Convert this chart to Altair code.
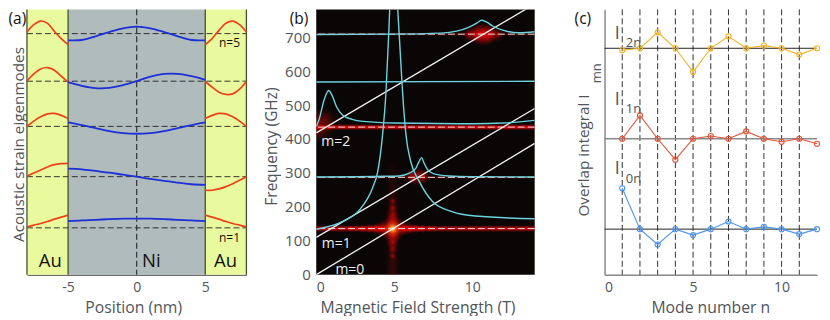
import altair as alt
import pandas as pd

FONT = "Open Sans"
GREY = "#4f555a"
XT = dict(titleFont=FONT, titleFontSize=15.8, titleColor=GREY, titleFontWeight="normal")
YT = dict(titleFont=FONT, titleFontSize=15.3, titleColor=GREY, titleFontWeight="normal")
LAB = dict(labelFont=FONT, labelFontSize=14, labelColor=GREY)

# ---------- panel (a): eigenmodes (y in arbitrary units) ----------
red_left_x = [-8, -7.5, -7, -6.5, -6, -5.5, -5]
red_right_x = [5, 5.5, 6, 6.5, 7, 7.5, 8]
blue_x = [-5, -4, -3, -2, -1, 0, 1, 2, 3, 4, 5]
baselines = [241.7, 194, 148.7, 98.3, 47]
red_left = [
    [243.3, 250.7, 254.3, 252, 244, 236.7, 230.7],
    [194, 201.3, 206.3, 207.7, 205, 199, 193],
    [148.7, 154, 158.3, 161.3, 161.7, 159.7, 156.7],
    [98.7, 102, 105, 108, 110.3, 111.3, 111.7],
    [48, 49.7, 51.3, 53.3, 55.7, 57.7, 59.7],
]
red_right = [
    [230.7, 236.7, 245, 252, 254.3, 250.7, 243.3],
    [193.7, 188, 183, 180.7, 181.3, 186, 193.7],
    [156.7, 159.7, 161.7, 161.3, 158.3, 154, 148.7],
    [84.7, 84.7, 86, 88.3, 91.3, 94.7, 98.3],
    [59.7, 57.7, 55.7, 53.3, 51.3, 49.7, 48],
]
blue_vals = [
    [235, 235.3, 239, 243.3, 247, 248.7, 247, 243.3, 239, 235.3, 235],
    [193, 189.3, 187, 187.3, 190, 194, 198.7, 201.3, 201.3, 199, 195.3],
    [152.7, 150, 147, 144, 142, 141.3, 142, 144, 147, 150, 152.7],
    [106.3, 105.7, 104, 102.3, 100.3, 98.3, 96, 94, 92.3, 90.7, 90],
    [53.7, 54.5, 55, 55.7, 56.2, 56.3, 56.2, 55.7, 55, 54.5, 53.7],
]

rows_red, rows_blue, rows_base = [], [], []
for i in range(5):
    for x, v in zip(red_left_x, red_left[i]):
        rows_red.append({"x": x, "v": v, "g": f"L{i}"})
    for x, v in zip(red_right_x, red_right[i]):
        rows_red.append({"x": x, "v": v, "g": f"R{i}"})
    for x, v in zip(blue_x, blue_vals[i]):
        rows_blue.append({"x": x, "v": v, "g": f"B{i}"})
    rows_base.append({"y": baselines[i], "x0": -8, "x1": 8})

sax = alt.Scale(domain=[-8, 8], nice=False)
say = alt.Scale(domain=[0, 266], nice=False)
axa = alt.Axis(values=[-5, 0, 5], title="Position (nm)", grid=False, ticks=False, domainColor="#333",
               domainWidth=1, labelPadding=6, titlePadding=6, titleX=106.5,
               labelExpr="replace(datum.label, '−', '-')", **LAB, **XT)
aya = alt.Axis(title="Acoustic strain eigenmodes", labels=False, ticks=False, grid=False, domain=False,
               titlePadding=0.5, titleY=135, **YT)


def AX(f):
    return alt.X(f, scale=sax, axis=axa)


def AY(f):
    return alt.Y(f, scale=say, axis=aya)


regions = pd.DataFrame({"x0": [-8, -5, 5], "x1": [-5, 5, 8], "c": ["#e9f99d", "#afbcbb", "#e9f99d"]})
bg = alt.Chart(regions).mark_rect().encode(
    x=AX("x0:Q"), x2="x1:Q", y=alt.value(0), y2=alt.value(266), color=alt.Color("c:N", scale=None))
edges = alt.Chart(pd.DataFrame({"x": [-8, -5, 5, 8]})).mark_rule(color="#48502a", strokeWidth=1.3).encode(
    x=AX("x:Q"), y=alt.value(0), y2=alt.value(266))
center = alt.Chart(pd.DataFrame({"x": [0]})).mark_rule(color="#2f3436", strokeWidth=1.2, strokeDash=[6, 3]).encode(
    x=AX("x:Q"), y=alt.value(0), y2=alt.value(266))
base = alt.Chart(pd.DataFrame(rows_base)).mark_rule(color="#222", strokeWidth=0.9, strokeDash=[6, 3]).encode(
    x=AX("x0:Q"), x2="x1:Q", y=AY("y:Q"))
reds = alt.Chart(pd.DataFrame(rows_red)).mark_line(color="#f0401c", strokeWidth=1.7, interpolate="catmull-rom").encode(
    x=AX("x:Q"), y=AY("v:Q"), detail="g:N")
blues = alt.Chart(pd.DataFrame(rows_blue)).mark_line(color="#1c2fd8", strokeWidth=1.8, interpolate="catmull-rom").encode(
    x=AX("x:Q"), y=AY("v:Q"), detail="g:N")

a_text = pd.DataFrame({"x": [-6.3, 1.07, 6.48], "v": [14, 14, 14], "t": ["Au", "Ni", "Au"]})
big = alt.Chart(a_text).mark_text(font=FONT, fontSize=18.5, color="#111", baseline="middle").encode(
    x=AX("x:Q"), y=AY("v:Q"), text="t:N")
n_text = pd.DataFrame({"x": [6.77, 6.77], "v": [232.3, 37.3], "t": ["n=5", "n=1"]})
ntxt = alt.Chart(n_text).mark_text(font=FONT, fontSize=12, color="#111", baseline="middle").encode(
    x=AX("x:Q"), y=AY("v:Q"), text="t:N")
tag_a = alt.Chart(pd.DataFrame({"t": ["(a)"]})).mark_text(font=FONT, fontSize=15.5, color="#111", align="left", baseline="middle").encode(
    x=alt.value(-18.5), y=alt.value(9.5), text="t:N")

panel_a = alt.layer(bg, base, center, edges, reds, blues, big, ntxt, tag_a).properties(width=220, height=266)

# ---------- panel (b): frequency vs field ----------
bx = alt.Scale(domain=[0, 14], nice=False)
by = alt.Scale(domain=[0, 782], nice=False)
axb = alt.Axis(values=[0, 5, 10], title="Magnetic Field Strength (T)", grid=False, ticks=False, domain=False,
               labelPadding=6, titlePadding=6, titleX=101.5, labelFont=FONT, labelFontSize=14, labelColor=GREY,
               titleFont=FONT, titleFontSize=15.8, titleColor=GREY, titleFontWeight="normal")
ayb = alt.Axis(values=[0, 100, 200, 300, 400, 500, 600, 700], title="Frequency (GHz)", grid=False, ticks=False,
               domain=False, labelPadding=6, titlePadding=5, titleY=137, labelFont=FONT, labelFontSize=15, labelColor=GREY,
               titleFont=FONT, titleFontSize=15.5, titleColor=GREY, titleFontWeight="normal")


def BX(f):
    return alt.X(f, scale=bx, axis=axb)


def BY(f):
    return alt.Y(f, scale=by, axis=ayb)


cyan_sets = {
    "peakL": ([0, 1.7, 2.77, 3.6, 3.94, 4.25, 4.47, 4.64, 4.72],
              [134, 157, 191, 255, 304, 412, 539, 706, 798]),
    "peakR": ([5.2, 5.32, 5.53, 5.75, 6.06, 6.6, 7.45, 8.7, 10.2, 14],
              [798, 706, 539, 412, 333, 275, 216, 186, 173, 165]),
    "m290": ([0, 4.5, 5.3, 6, 6.4, 6.6, 6.75, 6.9, 7.1, 7.5, 8.5, 10, 14],
             [288, 290, 291, 300, 315, 335, 345, 330, 312, 298, 291, 289, 288]),
    "m450": ([0, 0.2, 0.5, 0.8, 1, 1.3, 1.7, 2.3, 3, 5, 10, 12, 14],
             [437, 460, 515, 543, 530, 495, 470, 458, 452, 447, 445, 447, 455]),
    "m570": ([0, 14], [568, 570]),
    "m710": ([0, 5, 8, 9, 9.8, 10.3, 10.6, 10.9, 11.3, 12, 13, 14],
             [708, 709, 712, 718, 730, 742, 750, 745, 733, 720, 713, 716]),
}
rows_c = [{"x": x, "y": y, "g": k} for k, (xs, ys) in cyan_sets.items() for x, y in zip(xs, ys)]

white_x0 = [0, 0, 0]
white_x1 = [14, 14, 14]
white_y0 = [0, 110, 418]
white_y1 = [387, 490, 798]
dash_f = [136, 287, 435, 709]

bg_b = alt.Chart(pd.DataFrame({"x0": [0], "x1": [14]})).mark_rect(color="#0a0606").encode(
    x=BX("x0:Q"), x2="x1:Q", y=alt.value(0), y2=alt.value(266))


def rect_layer(x0, x1, y0, y1, grad):
    return alt.Chart(pd.DataFrame({"x0": [x0], "x1": [x1], "y0": [y0], "y1": [y1]})).mark_rect(clip=True).encode(
        x=BX("x0:Q"), x2="x1:Q", y=BY("y0:Q"), y2="y1:Q", color=alt.value(grad))


def glow(b, f, r, c, a):
    # round soft spot: b in T, f in GHz, r in T (the GHz half-height keeps it round on screen)
    cr, cg, cb = c
    grad = {"gradient": "radial", "r1": 0, "r2": 0.5, "x1": 0.5, "y1": 0.5, "x2": 0.5, "y2": 0.5,
            "stops": [{"offset": 0, "color": f"rgba({cr},{cg},{cb},{a})"},
                      {"offset": 0.5, "color": f"rgba({cr},{cg},{cb},{a * 0.4})"},
                      {"offset": 1, "color": f"rgba({cr},{cg},{cb},0)"}]}
    dy = r * (15.64 / 0.34)
    return rect_layer(b - r, b + r, f - dy, f + dy, grad)


def band(x0, x1, y0, y1, c, a):
    r, g, b = c
    edge = f"rgba({r},{g},{b},0)"
    core = f"rgba({r},{g},{b},{a})"
    grad = {"gradient": "linear", "x1": 0, "y1": 0, "x2": 0, "y2": 1,
            "stops": [{"offset": 0, "color": edge}, {"offset": 0.5, "color": core}, {"offset": 1, "color": edge}]}
    return rect_layer(x0, x1, y0, y1, grad)


RED = (245, 8, 8)
DRK = (150, 10, 10)
YEL = (255, 240, 110)
ORG = (255, 120, 10)

strip_f = [0, 20, 40, 60, 80, 100, 120, 140, 160, 180, 200, 220, 240, 260, 280, 300, 320]
strip_a = [.32, .32, .32, .32, .32, .32, .32, .32, .32, .32, .3, .28, .25, .22, .18, .13, .08]
star_v_f = [55, 75, 95, 115, 157, 177, 197, 217]
star_v_r = [0.22, 0.3, 0.4, 0.5, 0.5, 0.4, 0.3, 0.22]
star_h_b = [2.2, 2.6, 3.0, 3.4, 3.8, 4.2, 5.6, 6.0, 6.4, 6.8, 7.2, 7.6]
star_h_r = [0.2, 0.22, 0.26, 0.3, 0.36, 0.45, 0.45, 0.36, 0.3, 0.26, 0.22, 0.2]

heat = [glow(4.9, f, 0.48, DRK, a) for f, a in zip(strip_f, strip_a)]
heat += [glow(4.9, f, r, RED, 0.6) for f, r in zip(star_v_f, star_v_r)]
heat += [band(0, 14, 126, 146, RED, 0.9)]
heat += [glow(b, 136, r, RED, 0.9) for b, r in zip(star_h_b, star_h_r)]
heat += [
    glow(4.9, 136, 0.85, RED, 1.0),
    glow(4.9, 136, 0.55, ORG, 0.95),
    glow(4.9, 136, 0.3, YEL, 1.0),
    band(0, 14, 426, 444, RED, 1.0),
    glow(0.1, 440, 1.1, RED, 0.55),
    glow(0.6, 455, 0.8, DRK, 0.4),
    band(0, 14, 281, 293, DRK, 0.45),
    glow(6.1, 289, 0.45, RED, 0.6),
    glow(6.5, 289, 0.6, RED, 0.75),
    glow(6.9, 289, 0.45, RED, 0.5),
    band(0, 14, 702, 716, DRK, 0.4),
    glow(9.8, 708, 0.45, RED, 0.6),
    glow(10.3, 708, 0.6, RED, 0.8),
    glow(10.7, 708, 0.75, RED, 0.95),
    glow(11.1, 708, 0.6, RED, 0.8),
    glow(11.6, 708, 0.45, RED, 0.5),
]

dashes = alt.Chart(pd.DataFrame({"y": dash_f})).mark_rule(color="#f2dada", strokeWidth=1, strokeDash=[7, 3]).encode(
    y=BY("y:Q"))
whites = alt.Chart(pd.DataFrame({"x0": white_x0, "x1": white_x1, "y0": white_y0, "y1": white_y1})).mark_rule(
    color="#f5f5f5", strokeWidth=1.3, clip=True).encode(
    x=BX("x0:Q"), x2="x1:Q", y=BY("y0:Q"), y2="y1:Q")
cyans = alt.Chart(pd.DataFrame(rows_c)).mark_line(color="#6bd3de", strokeWidth=1.4, interpolate="monotone", clip=True).encode(
    x=BX("x:Q"), y=BY("y:Q"), detail="g:N")
m_text = pd.DataFrame({"x": [0.32, 0.36, 1.23], "y": [392, 91, 15], "t": ["m=2", "m=1", "m=0"]})
mtxt = alt.Chart(m_text).mark_text(font=FONT, fontSize=14, color="#eee", align="left", baseline="middle").encode(
    x=BX("x:Q"), y=BY("y:Q"), text="t:N")
tag_b = alt.Chart(pd.DataFrame({"t": ["(b)"]})).mark_text(font=FONT, fontSize=15.5, color="#111", align="left", baseline="middle").encode(
    x=alt.value(-26.5), y=alt.value(9.5), text="t:N")

panel_b = alt.layer(bg_b, *heat, dashes, whites, cyans, mtxt, tag_b).properties(width=219, height=266)

# ---------- panel (c): overlap integrals ----------
mode_n = list(range(1, 13))
I2 = [225, 227, 243, 227, 203.3, 227, 239, 227, 229.7, 227, 220.7, 227]
I1 = [136.3, 159.7, 136.3, 115.3, 136.3, 139, 136.3, 143.7, 136.3, 133.3, 136.3, 131.3]
I0 = [86.7, 45.7, 30.3, 45.7, 39.7, 45.7, 53.3, 45.7, 48, 45.7, 40.7, 45.7]
lines_c = [227, 136.3, 45.7]
series = {"I2": (I2, "#f0b428"), "I1": (I1, "#e2553a"), "I0": (I0, "#4d94ea")}

cx = alt.Scale(domain=[0, 12], nice=False)
cy = alt.Scale(domain=[0, 266], nice=False)
axc = alt.Axis(values=[0, 5, 10], title="Mode number n", grid=False, ticks=False, domainColor="#8a8a8a",
               domainWidth=1.5, labelPadding=6, titlePadding=6, titleX=106, **LAB, **XT)
ayc = alt.Axis(title="Overlap integral I", labels=False, ticks=False, grid=False, domainColor="#8a8a8a",
               domainWidth=1.5, titlePadding=13, titleY=146, **YT)


def CX(f):
    return alt.X(f, scale=cx, axis=axc)


def CY(f):
    return alt.Y(f, scale=cy, axis=ayc)


v_dash = alt.Chart(pd.DataFrame({"x": mode_n[:-1]})).mark_rule(color="#333", strokeWidth=1, strokeDash=[6, 3]).encode(
    x=CX("x:Q"), y=alt.value(0), y2=alt.value(266))
h_lines = alt.Chart(pd.DataFrame({"y": lines_c, "c": ["#222", "#8a8a8a", "#222"], "w": [1, 1.6, 1]})).mark_rule().encode(
    y=CY("y:Q"), color=alt.Color("c:N", scale=None), strokeWidth=alt.StrokeWidth("w:Q", scale=None))

c_layers = []
for k, (vals, col) in series.items():
    df = pd.DataFrame({"n": mode_n, "v": vals})
    c_layers.append(alt.Chart(df).mark_line(color=col, strokeWidth=1.1).encode(x=CX("n:Q"), y=CY("v:Q")))
    c_layers.append(alt.Chart(df).mark_point(shape="circle", color=col, size=26, filled=False, strokeWidth=1.1, opacity=1).encode(
        x=CX("n:Q"), y=CY("v:Q")))

big_i = pd.DataFrame({"x": [0.72, 0.72, 0.72], "v": [241.7, 175, 106.3], "t": ["I", "I", "I"]})
sub_i = pd.DataFrame({"x": [1.2, 1.2, 1.2], "v": [232.5, 165.7, 96.3], "t": ["2n", "1n", "0n"]})
t_i = alt.Chart(big_i).mark_text(font=FONT, fontSize=18, color=GREY, baseline="middle").encode(
    x=CX("x:Q"), y=CY("v:Q"), text="t:N")
t_s = alt.Chart(sub_i).mark_text(font=FONT, fontSize=13, color=GREY, align="left", baseline="middle").encode(
    x=CX("x:Q"), y=CY("v:Q"), text="t:N")
t_mn = alt.Chart(pd.DataFrame({"t": ["mn"]})).mark_text(font=FONT, fontSize=13, color=GREY, angle=270, baseline="middle").encode(
    x=alt.value(-7.5), y=alt.value(64), text="t:N")
tag_c = alt.Chart(pd.DataFrame({"t": ["(c)"]})).mark_text(font=FONT, fontSize=15.5, color="#111", align="left", baseline="middle").encode(
    x=alt.value(-30), y=alt.value(9.5), text="t:N")

panel_c = alt.layer(v_dash, h_lines, *c_layers, t_i, t_s, t_mn, tag_c).properties(width=213, height=266)

chart = alt.hconcat(panel_a, panel_b, panel_c, spacing=70, bounds="flush").configure_view(stroke=None).properties(padding=0)
chart.save("out.html", embed_options={"renderer": "svg", "actions": False})
